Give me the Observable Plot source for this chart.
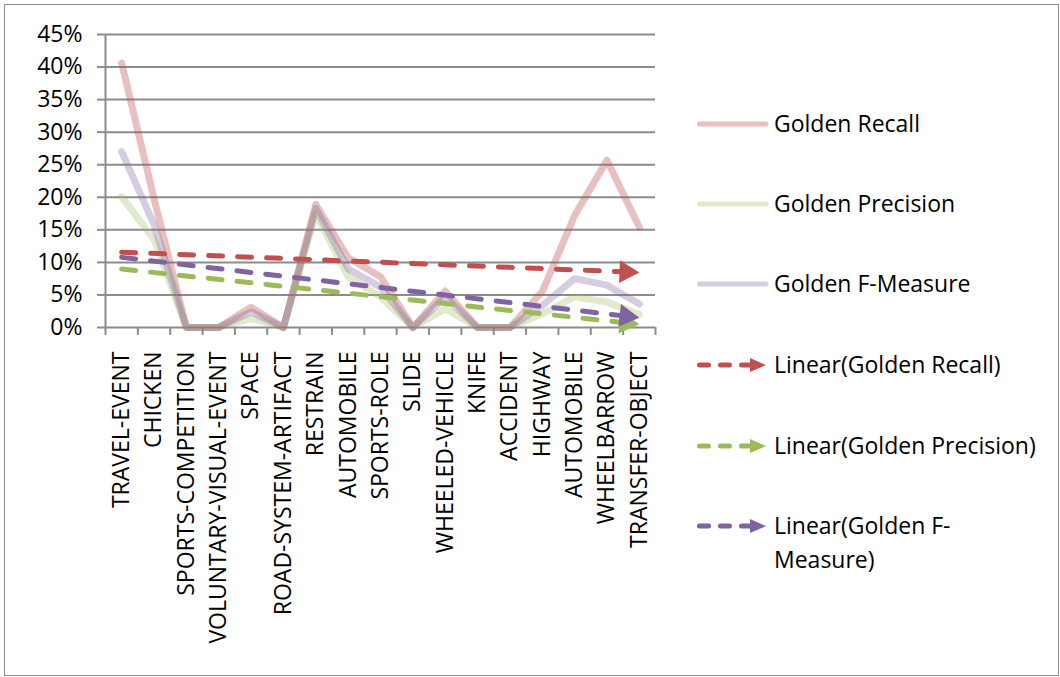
<!DOCTYPE html>
<html>
<head>
<meta charset="utf-8">
<script src="https://cdn.jsdelivr.net/npm/d3@7"></script>
<script src="https://cdn.jsdelivr.net/npm/@observablehq/plot@0.6"></script>
<style>
  html, body { margin: 0; padding: 0; background: #fff; }
  body { width: 1060px; height: 677px; position: relative; overflow: hidden; font-family: "Open Sans", sans-serif; }
  #frame { position: absolute; left: 4px; top: 4px; width: 1055px; height: 672px; box-sizing: border-box; border: 1.5px solid #8c8c8c; pointer-events: none; }
  #chart { position: absolute; left: 0; top: 0; }
  .leg { position: absolute; left: 0; top: 0; }
  .leg svg { position: absolute; overflow: visible; }
  .leg .t { position: absolute; font-size: 23px; color: #000; line-height: 34px; white-space: nowrap; }
</style>
</head>
<body>
<div id="chart"></div>
<div id="legend" class="leg"></div>
<div id="frame"></div>
<script>
// ---- data ----
const categories = ["TRAVEL-EVENT","CHICKEN","SPORTS-COMPETITION","VOLUNTARY-VISUAL-EVENT","SPACE","ROAD-SYSTEM-ARTIFACT","RESTRAIN","AUTOMOBILE","SPORTS-ROLE","SLIDE","WHEELED-VEHICLE","KNIFE","ACCIDENT","HIGHWAY","AUTOMOBILE","WHEELBARROW","TRANSFER-OBJECT"];
const recall    = [0.406,0.198,0,0,0.031,0,0.189,0.107,0.078,0,0.056,0,0,0.055,0.172,0.257,0.154];
const precision = [0.201,0.135,0,0,0.014,0,0.175,0.078,0.047,0,0.029,0,0,0.021,0.047,0.039,0.020];
const fmeasure  = [0.270,0.158,0,0,0.024,0,0.183,0.090,0.062,0,0.047,0,0,0.034,0.075,0.065,0.036];
const seriesNames = ["Golden Recall","Golden Precision","Golden F-Measure"];
const trendNames = ["Linear(Golden Recall)","Linear(Golden Precision)","Linear(Golden F-Measure)"];
const yTicks = [0,0.05,0.10,0.15,0.20,0.25,0.30,0.35,0.40,0.45];

// ---- styles ----
const colors = ["#c0504d","#9bbb59","#8064a2"];
const lineOpacity = [0.36, 0.3, 0.32];
const W = 1060, H = 677, mL = 105, mR = 405, mT = 34, mB = 350;

const n = categories.length;
const idx = d3.range(n);
const allSeries = [recall, precision, fmeasure];
const bounds = d3.range(n + 1).map(i => i - 0.5);
const pxStep = (W - mL - mR) / n;
const pxUnit = (H - mT - mB) / 0.45;

function linreg(vals) {
  const mx = d3.mean(idx), my = d3.mean(vals);
  let sxy = 0, sxx = 0;
  idx.forEach(i => { sxy += (i - mx) * (vals[i] - my); sxx += (i - mx) * (i - mx); });
  const b = sxy / sxx;
  return {a: my - b * mx, b};
}

const marks = [
  Plot.gridY(yTicks, {stroke: "#8c8c8c", strokeOpacity: 1, strokeWidth: 2}),
  Plot.ruleX([-0.5], {stroke: "#8c8c8c", strokeWidth: 2}),
  Plot.axisY(yTicks, {tickSize: 8, tickPadding: 15, tickFormat: d3.format(".0%"), stroke: "#8c8c8c", strokeWidth: 2, fill: "#000", label: null}),
  Plot.axisX(bounds, {tickSize: 8, tickFormat: () => "", stroke: "#8c8c8c", strokeWidth: 2, label: null}),
  Plot.text(idx, {x: d => d, text: i => categories[i], frameAnchor: "bottom", dy: 24, rotate: -90, textAnchor: "end", lineAnchor: "middle", fill: "#000"})
];

allSeries.forEach((vals, s) => {
  marks.push(Plot.line(idx, {x: d => d, y: i => vals[i], stroke: colors[s], strokeOpacity: lineOpacity[s], strokeWidth: 7, strokeLinejoin: "round", strokeLinecap: "round"}));
});

const r = 8.5, k = 0.7776;
allSeries.forEach((vals, s) => {
  const {a, b} = linreg(vals);
  const ang = Math.atan2(-b * pxUnit, pxStep);
  const L = 3 * k * r;
  const endI = (n - 1) - (L * 0.85 * Math.cos(ang)) / pxStep;
  const pts = [{x: 0, y: a}, {x: endI, y: a + b * endI}];
  marks.push(Plot.line(pts, {x: "x", y: "y", stroke: colors[s], strokeWidth: 5, strokeDasharray: "14 15", strokeLinecap: "round"}));
  marks.push(Plot.dot([n - 1], {x: d => d, y: d => a + b * d, symbol: "triangle", r, fill: colors[s], stroke: "none",
    rotate: 90 + ang * 180 / Math.PI, dx: -2 * k * r * Math.cos(ang), dy: -2 * k * r * Math.sin(ang)}));
});

const chart = Plot.plot({
  width: W, height: H,
  marginLeft: mL, marginRight: mR, marginTop: mT, marginBottom: mB,
  x: {type: "linear", domain: [-0.5, n - 0.5]},
  y: {domain: [0, 0.45]},
  style: {fontFamily: "'Open Sans', sans-serif", fontSize: "23px", color: "#000", background: "transparent", overflow: "visible"},
  marks
});
document.getElementById("chart").appendChild(chart);

// ---- legend ----
const legend = document.getElementById("legend");
const ns = "http://www.w3.org/2000/svg";
const legY = [124, 204, 284, 365, 446, 526];
function addText(label, y) {
  const t = document.createElement("div");
  t.className = "t";
  t.style.left = "774px";
  t.style.top = (y - 18) + "px";
  t.innerHTML = label;
  legend.appendChild(t);
}
seriesNames.forEach((name, s) => {
  const y = legY[s];
  const svg = document.createElementNS(ns, "svg");
  svg.setAttribute("width", 80); svg.setAttribute("height", 20);
  svg.style.left = "690px"; svg.style.top = (y - 10) + "px";
  const ln = document.createElementNS(ns, "line");
  ln.setAttribute("x1", 9.5); ln.setAttribute("x2", 76); ln.setAttribute("y1", 10); ln.setAttribute("y2", 10);
  ln.setAttribute("stroke", colors[s]); ln.setAttribute("stroke-opacity", lineOpacity[s]);
  ln.setAttribute("stroke-width", 5); ln.setAttribute("stroke-linecap", "round");
  svg.appendChild(ln);
  legend.appendChild(svg);
  addText(name, y);
});
trendNames.forEach((name, s) => {
  const y = legY[3 + s];
  const svg = document.createElementNS(ns, "svg");
  svg.setAttribute("width", 80); svg.setAttribute("height", 20);
  svg.style.left = "690px"; svg.style.top = (y - 10) + "px";
  const ln = document.createElementNS(ns, "line");
  ln.setAttribute("x1", 9.5); ln.setAttribute("x2", 62); ln.setAttribute("y1", 10); ln.setAttribute("y2", 10);
  ln.setAttribute("stroke", colors[s]); ln.setAttribute("stroke-width", 5);
  ln.setAttribute("stroke-linecap", "round"); ln.setAttribute("stroke-dasharray", "9 12");
  svg.appendChild(ln);
  const tri = document.createElementNS(ns, "polygon");
  tri.setAttribute("points", "60,3 76,10 60,17");
  tri.setAttribute("fill", colors[s]);
  svg.appendChild(tri);
  legend.appendChild(svg);
  addText(s === 2 ? "Linear(Golden F-<br>Measure)" : name, y);
});
</script>
</body>
</html>
